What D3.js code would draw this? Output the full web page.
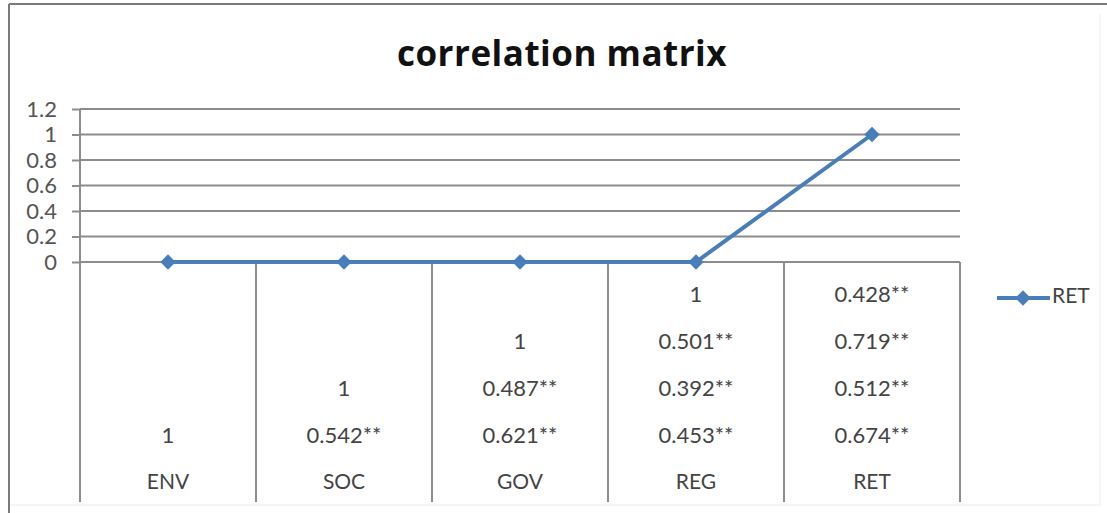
<!DOCTYPE html>
<html>
<head>
<meta charset="utf-8">
<script src="https://cdn.jsdelivr.net/npm/d3@7"></script>
<style>
  body { margin: 0; background: #fff; }
  svg { display: block; }
  text { font-family: Lato, "Open Sans", sans-serif; }
</style>
</head>
<body>
<div id="canvas"></div>
<script>
// chart data
const categories = ["ENV", "SOC", "GOV", "REG", "RET"];
const retValues = [0, 0, 0, 0, 1];
const yTicks = [0, 0.2, 0.4, 0.6, 0.8, 1, 1.2];
// data table cells, top row first ("" = empty cell)
const tableRows = [
    ["", "", "", "1", "0.428**"],
    ["", "", "1", "0.501**", "0.719**"],
    ["", "1", "0.487**", "0.392**", "0.512**"],
    ["1", "0.542**", "0.621**", "0.453**", "0.674**"]
];
const seriesName = "RET";
const title = "correlation matrix";

const W = 1107, H = 513;
const blue = "#4a7ebb", grid = "#8c8c8c";

const svg = d3.select("#canvas")
    .append("svg")
    .attr("width", W)
    .attr("height", H);

// outer frame
svg.append("line").attr("x1", 9).attr("x2", 1107).attr("y1", 4).attr("y2", 4)
    .attr("stroke", "#7a7a7a").attr("stroke-width", 2);
svg.append("line").attr("x1", 9).attr("x2", 9).attr("y1", 4).attr("y2", 513)
    .attr("stroke", "#7a7a7a").attr("stroke-width", 2);
svg.append("line").attr("x1", 1100).attr("x2", 1100).attr("y1", 14).attr("y2", 505)
    .attr("stroke", "#ececec").attr("stroke-width", 1);
svg.append("line").attr("x1", 10).attr("x2", 1100).attr("y1", 505).attr("y2", 505)
    .attr("stroke", "#ececec").attr("stroke-width", 1);

// title
svg.append("text")
    .attr("x", 562).attr("y", 66)
    .attr("text-anchor", "middle")
    .style("font-family", "'Open Sans', sans-serif")
    .style("font-size", "35px").style("font-weight", "bold")
    .style("letter-spacing", "0.5px")
    .style("fill", "#111")
    .text(title);

// scales
const x = d3.scaleBand().domain(categories).range([80, 960]).padding(0);
const y = d3.scaleLinear().domain([0, 1.2]).range([262, 109]);
const cx = d => x(d) + x.bandwidth() / 2;

// gridlines + y ticks
const yAxis = svg.append("g")
    .attr("transform", "translate(80,0)")
    .call(d3.axisLeft(y).tickValues(yTicks).tickSize(8).tickFormat(d => d3.format("")(+d.toFixed(1))));
yAxis.select(".domain").remove();
yAxis.selectAll("line").attr("stroke", grid).attr("stroke-width", 2);
yAxis.selectAll("text")
    .attr("x", -23)
    .style("font-size", "22px")
    .style("fill", "#555")
    .style("font-family", "Lato, sans-serif");

svg.append("g").selectAll("line")
    .data(yTicks)
    .join("line")
    .attr("x1", 80).attr("x2", 960)
    .attr("y1", d => y(d)).attr("y2", d => y(d))
    .attr("stroke", grid).attr("stroke-width", 2);

// vertical axis line, extends through the data table
const tableBottom = 502;
svg.append("line")
    .attr("x1", 80).attr("x2", 80).attr("y1", y(1.2)).attr("y2", tableBottom)
    .attr("stroke", grid).attr("stroke-width", 2);

// data table column separators
svg.append("g").selectAll("line")
    .data(categories)
    .join("line")
    .attr("x1", d => x(d) + x.bandwidth()).attr("x2", d => x(d) + x.bandwidth())
    .attr("y1", y(0)).attr("y2", tableBottom)
    .attr("stroke", grid).attr("stroke-width", 2);

// table texts
const rowY = d3.scaleLinear().domain([0, 4]).range([296, 484]);
tableRows.forEach(function(row, i) {
    svg.append("g").selectAll("text")
        .data(row.map((v, j) => ({v: v, c: categories[j]})))
        .join("text")
        .attr("x", d => cx(d.c))
        .attr("y", rowY(i))
        .attr("text-anchor", "middle")
        .attr("dominant-baseline", "middle")
        .style("font-size", "22px")
        .style("fill", "#444")
        .text(d => d.v);
});
svg.append("g").selectAll("text")
    .data(categories)
    .join("text")
    .attr("x", d => cx(d))
    .attr("y", rowY(4))
    .attr("text-anchor", "middle")
    .attr("dominant-baseline", "middle")
    .style("font-size", "21px")
    .style("fill", "#444")
    .text(d => d);

// line series
const pts = categories.map((c, i) => [cx(c), y(retValues[i])]);
svg.append("path")
    .attr("d", d3.line()(pts))
    .attr("fill", "none")
    .attr("stroke", blue)
    .attr("stroke-width", 4);

const diamond = d3.symbol().type(d3.symbolDiamond2).size(150);
svg.append("g").selectAll("path")
    .data(pts)
    .join("path")
    .attr("transform", d => `translate(${d[0]},${d[1]})`)
    .attr("d", diamond)
    .attr("fill", blue);

// legend
svg.append("line").attr("x1", 997).attr("x2", 1050).attr("y1", 298).attr("y2", 298)
    .attr("stroke", blue).attr("stroke-width", 4);
svg.append("path").attr("transform", "translate(1023,298)").attr("d", diamond).attr("fill", blue);
svg.append("text").attr("x", 1052).attr("y", 298)
    .attr("dominant-baseline", "middle")
    .style("font-size", "21px").style("fill", "#444")
    .text(seriesName);
</script>
</body>
</html>
